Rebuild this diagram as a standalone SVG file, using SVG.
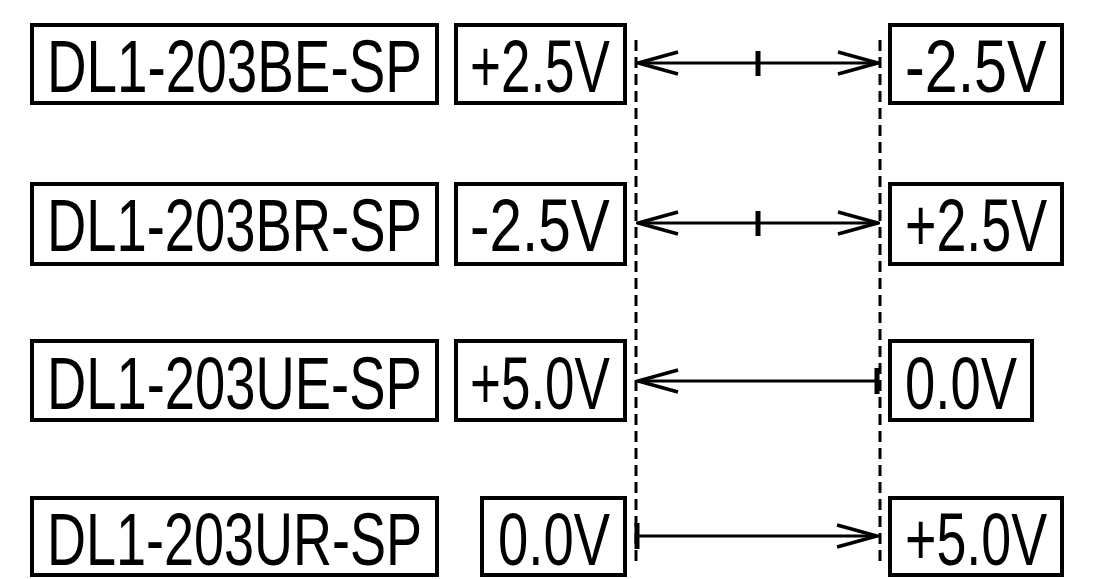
<svg xmlns="http://www.w3.org/2000/svg" width="1102" height="579" viewBox="0 0 1102 579">
<defs>
<style>
.box{fill:#fff;stroke:#000;stroke-width:4}
.t{font-family:"Liberation Sans",Arial,sans-serif;font-size:74px;fill:#000}
.dash{stroke:#000;stroke-width:3;stroke-dasharray:11 6;fill:none}
.ln{stroke:#000;stroke-width:3;fill:none}
.tick{stroke:#000;stroke-width:5;fill:none}
</style>
<marker id="ah" markerWidth="44" markerHeight="26" refX="42" refY="13" orient="auto-start-reverse" markerUnits="userSpaceOnUse">
<path d="M2,2 L42,13 L2,24" fill="none" stroke="#000" stroke-width="3.5"/>
</marker>
</defs>
<rect width="1102" height="579" fill="#fff"/>
<g id="connectors">
<line class="dash" x1="636" y1="40" x2="636" y2="562"/>
<line class="dash" x1="880" y1="40" x2="880" y2="562"/>
<line class="ln" x1="638" y1="63" x2="878" y2="63" marker-start="url(#ah)" marker-end="url(#ah)"/>
<line class="tick" x1="758" y1="51" x2="758" y2="76"/>
<line class="ln" x1="638" y1="223" x2="878" y2="223" stroke-width="4" marker-start="url(#ah)" marker-end="url(#ah)"/>
<line class="tick" x1="758" y1="211" x2="758" y2="236"/>
<line class="ln" x1="877" y1="381" x2="638" y2="381" marker-end="url(#ah)"/>
<line class="tick" x1="877" y1="368" x2="877" y2="394"/>
<line class="ln" x1="638" y1="536" x2="877" y2="536" marker-end="url(#ah)"/>
<line class="tick" x1="637" y1="523" x2="637" y2="549"/>
</g>
<g id="r1a"><rect class="box" x="32" y="25" width="405" height="78"/><text class="t" transform="translate(47,92) scale(0.741,1)">DL1-203BE-SP</text></g>
<g id="r1b"><rect class="box" x="456" y="25" width="169" height="78"/><text class="t" transform="translate(470,92) scale(0.716,1)">+2.5V</text></g>
<g id="r1c"><rect class="box" x="890" y="25" width="172" height="78"/><text class="t" transform="translate(905,92) scale(0.80,1)">-2.5V</text></g>
<g id="r2a"><rect class="box" x="32" y="184" width="405" height="80"/><text class="t" transform="translate(47,251) scale(0.735,1)">DL1-203BR-SP</text></g>
<g id="r2b"><rect class="box" x="456" y="184" width="169" height="80"/><text class="t" transform="translate(470,251) scale(0.79,1)">-2.5V</text></g>
<g id="r2c"><rect class="box" x="890" y="184" width="172" height="80"/><text class="t" transform="translate(905,251) scale(0.727,1)">+2.5V</text></g>
<g id="r3a"><rect class="box" x="32" y="341" width="405" height="79"/><text class="t" transform="translate(47,409) scale(0.735,1)">DL1-203UE-SP</text></g>
<g id="r3b"><rect class="box" x="456" y="341" width="169" height="79"/><text class="t" transform="translate(470,409) scale(0.716,1)">+5.0V</text></g>
<g id="r3c"><rect class="box" x="890" y="341" width="142" height="79"/><text class="t" transform="translate(905,409) scale(0.736,1)">0.0V</text></g>
<g id="r4a"><rect class="box" x="32" y="498" width="405" height="77"/><text class="t" transform="translate(47,565) scale(0.7296,1)">DL1-203UR-SP</text></g>
<g id="r4b"><rect class="box" x="482" y="498" width="143" height="77"/><text class="t" transform="translate(498,565) scale(0.736,1)">0.0V</text></g>
<g id="r4c"><rect class="box" x="890" y="498" width="172" height="77"/><text class="t" transform="translate(905,565) scale(0.727,1)">+5.0V</text></g>
</svg>
